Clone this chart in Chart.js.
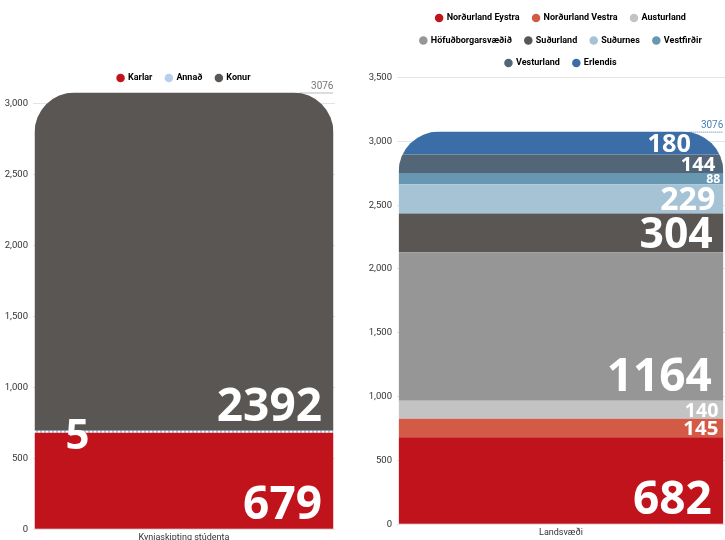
<!DOCTYPE html>
<html>
<head>
    <title>Stúdentar</title>
    <script src="https://cdn.jsdelivr.net/npm/chart.js"></script>
    <style>
body {
    margin: 0;
    background: #fff;
    width: 725px;
    height: 540px;
    overflow: hidden;
    position: relative;
}

#leftBox {
    position: absolute;
    left: 0;
    top: 0;
}

#rightBox {
    position: absolute;
    left: 350px;
    top: 0;
}
    </style>
</head>
<body>
  <div id="leftBox"><canvas id="genderChart" width="345" height="546"></canvas></div>
  <div id="rightBox"><canvas id="regionChart" width="385" height="543"></canvas></div>
    <script>
        // Data
        const genderCategory = ['Kynjaskipting stúdenta'];
        const genderLabels = ['Karlar', 'Annað', 'Konur'];
        const genderValues = [679, 5, 2392];
        const genderTicks = [0, 500, 1000, 1500, 2000, 2500, 3000];

        const regionCategory = ['Landsvæði'];
        const regionLabels = ['Norðurland Eystra', 'Norðurland Vestra', 'Austurland', 'Höfuðborgarsvæðið',
                              'Suðurland', 'Suðurnes', 'Vestfirðir', 'Vesturland', 'Erlendis'];
        const regionValues = [682, 145, 140, 1164, 304, 229, 88, 144, 180];
        const regionTicks = [0, 500, 1000, 1500, 2000, 2500, 3000, 3500];

        // Colours
        const genderColors = ['#c1131c', '#b5cfec', '#5a5653'];
        const regionColors = ['#c1131c', '#d35a45', '#c3c3c3', '#969696', '#5a5653',
                              '#a5c3d4', '#6898b1', '#536677', '#3b6ea6'];

        const SMALL_FONT = "'Liberation Sans Narrow', 'Roboto', sans-serif";
        const BIG_FONT = "'Open Sans', sans-serif";
        const RADIUS = 40;
        const sum = arr => arr.reduce((a, b) => a + b, 0);

        // dotted light blue fill for the tiny "Annað" slice
        function dottedPattern() {
          const c = document.createElement('canvas');
          c.width = 4; c.height = 4;
          const g = c.getContext('2d');
          g.fillStyle = '#ffffff';
          g.fillRect(0, 0, 4, 4);
          g.fillStyle = '#a9c6e8';
          g.fillRect(0, 0, 2, 4);
          return g.createPattern(c, 'repeat');
        }

        // Clip the whole stack to a rounded-top rectangle
        const roundTop = {
          id: 'roundTop',
          beforeDatasetsDraw(chart, args, opts) {
            const bar = chart.getDatasetMeta(0).data[0];
            const y = chart.scales.y;
            const left = bar.x - bar.width / 2;
            const top = y.getPixelForValue(opts.total);
            const bottom = y.getPixelForValue(0);
            const ctx = chart.ctx;
            ctx.save();
            ctx.beginPath();
            ctx.roundRect(left, top, bar.width, bottom - top, [RADIUS, RADIUS, 0, 0]);
            ctx.clip();
          },
          afterDatasetsDraw(chart) {
            chart.ctx.restore();
          }
        };

        // Big white value labels + total marker
        const valueLabels = {
          id: 'valueLabels',
          afterDraw(chart, args, opts) {
            const ctx = chart.ctx;
            const yScale = chart.scales.y;
            const stackTop = yScale.getPixelForValue(opts.total);
            ctx.save();
            chart.data.datasets.forEach((ds, i) => {
              const bar = chart.getDatasetMeta(i).data[0];
              const right = bar.x + bar.width / 2;
              const left = bar.x - bar.width / 2;
              const value = ds.data[0];
              const h = yScale.getPixelForValue(0) - yScale.getPixelForValue(value);
              ctx.fillStyle = '#fff';
              if (h < 4) {
                ctx.font = 'bold 42px ' + BIG_FONT;
                ctx.textAlign = 'left';
                ctx.textBaseline = 'alphabetic';
                ctx.fillText(value, left + 31, bar.base + 16);
                return;
              }
              const size = Math.min(46, h * 1.1);
              const cap = size * 0.714;
              const baseY = bar.base - Math.min(10, (h - cap) / 2);
              // step in where the rounded corner cuts the bar
              const dy = baseY - cap - stackTop;
              let inset = 0;
              if (dy < RADIUS) {
                const d = RADIUS - Math.max(dy, 0);
                inset = RADIUS - Math.sqrt(RADIUS * RADIUS - d * d);
              }
              ctx.font = 'bold ' + size + 'px ' + BIG_FONT;
              ctx.textAlign = 'right';
              ctx.textBaseline = 'alphabetic';
              ctx.fillText(value, right - inset - size * 0.25, baseY);
            });

            // total above the stack
            const bar = chart.getDatasetMeta(0).data[0];
            const right = bar.x + bar.width / 2;
            ctx.font = '10px ' + SMALL_FONT;
            ctx.fillStyle = opts.color;
            ctx.textAlign = 'right';
            ctx.textBaseline = 'bottom';
            ctx.fillText(opts.total, right, stackTop - 1);
            ctx.strokeStyle = opts.color;
            ctx.lineWidth = 1;
            ctx.setLineDash([1, 1]);
            ctx.beginPath();
            ctx.moveTo(right - 34, stackTop + 0.5);
            ctx.lineTo(right, stackTop + 0.5);
            ctx.stroke();
            ctx.restore();
          }
        };

        // Centre the legend over the plot area rather than the canvas
        const legendOverArea = {
          id: 'legendOverArea',
          afterLayout(chart) {
            chart.legend.left = chart.chartArea.left;
            chart.legend.right = chart.chartArea.right;
          }
        };

        function makeOptions(total, tickValues, axisWidth, pad, totalColor, legendColors) {
          return {
            responsive: false,
            animation: false,
            layout: { padding: pad },
            plugins: {
              tooltip: { enabled: false },
              legend: {
                labels: {
                  usePointStyle: true,
                  pointStyle: 'circle',
                  boxWidth: 6,
                  boxHeight: 6,
                  padding: 13.5,
                  color: '#333',
                  font: { family: SMALL_FONT, size: 9, weight: 'bold' },
                  generateLabels(chart) {
                    return chart.data.datasets.map((ds, i) => ({
                      text: ds.label,
                      fillStyle: legendColors[i],
                      strokeStyle: legendColors[i],
                      lineWidth: 0,
                      pointStyle: 'circle',
                      datasetIndex: i,
                      hidden: false
                    }));
                  }
                }
              },
              roundTop: { total: total },
              valueLabels: { total: total, color: totalColor }
            },
            scales: {
              x: {
                stacked: true,
                grid: { display: false, drawTicks: false },
                border: { display: false },
                ticks: { color: '#333', padding: 3, font: { family: SMALL_FONT, size: 9 } }
              },
              y: {
                stacked: true,
                min: 0,
                max: Math.max(total, tickValues[tickValues.length - 1]),
                afterFit(scale) { scale.width = axisWidth; },
                afterBuildTicks(scale) {
                  scale.ticks = tickValues.map(v => ({ value: v }));
                },
                grid: { color: '#e4e4e4', drawTicks: false },
                border: { display: false },
                ticks: { color: '#333', padding: 5, font: { family: SMALL_FONT, size: 9.5 } }
              }
            }
          };
        }

        const genderTotal = sum(genderValues);
        const genderChart = new Chart(document.getElementById('genderChart'), {
          type: 'bar',
          data: {
            labels: genderCategory,
            datasets: genderLabels.map((name, i) => ({
              label: name,
              data: [genderValues[i]],
              backgroundColor: i === 1 ? dottedPattern() : genderColors[i],
              borderWidth: 0,
              minBarLength: i === 1 ? 2 : 0,
              barPercentage: 0.99,
              categoryPercentage: 1
            }))
          },
          options: makeOptions(genderTotal, genderTicks, 33, { top: 60, right: 10, left: 0, bottom: 0 }, '#777', genderColors),
          plugins: [roundTop, valueLabels, legendOverArea]
        });

        const regionTotal = sum(regionValues);
        const regionChart = new Chart(document.getElementById('regionChart'), {
          type: 'bar',
          data: {
            labels: regionCategory,
            datasets: regionLabels.map((name, i) => ({
              label: name,
              data: [regionValues[i]],
              backgroundColor: regionColors[i],
              borderWidth: 0,
              barPercentage: 0.99,
              categoryPercentage: 1
            }))
          },
          options: makeOptions(regionTotal, regionTicks, 47, { top: 0, right: 10, left: 0, bottom: 2 }, '#4a7db3', regionColors),
          plugins: [roundTop, valueLabels, legendOverArea]
        });
    </script>
</body>
</html>
